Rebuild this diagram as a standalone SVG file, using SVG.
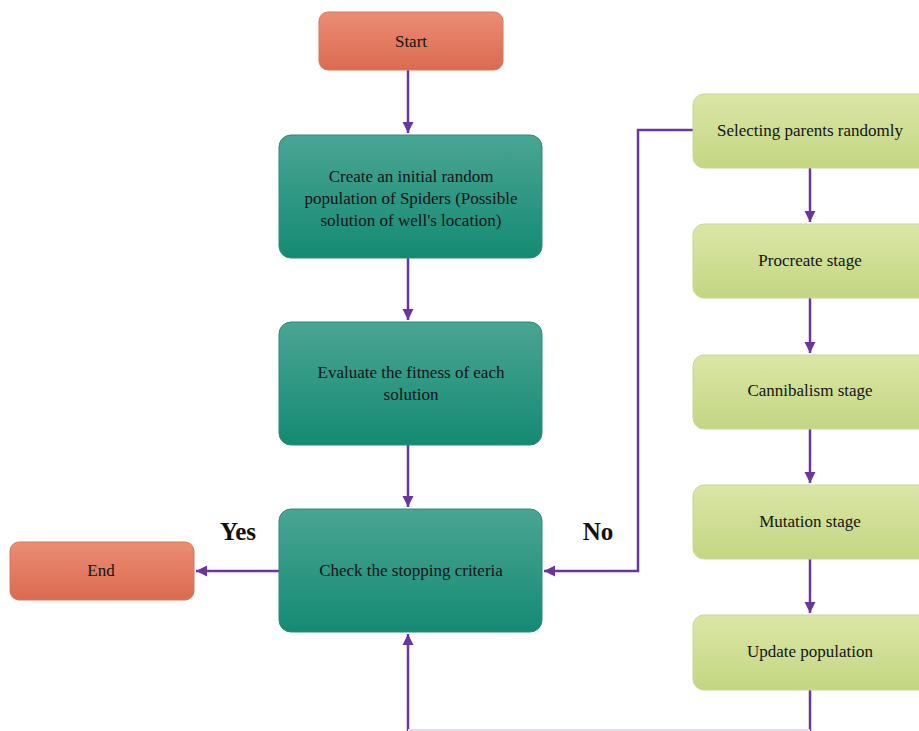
<svg xmlns="http://www.w3.org/2000/svg" width="919" height="731" viewBox="0 0 919 731">
<defs>
<linearGradient id="gRed" x1="0" y1="0" x2="0" y2="1"><stop offset="0" stop-color="#eb8d75"/><stop offset="1" stop-color="#da6a4f"/></linearGradient>
<linearGradient id="gTeal" x1="0" y1="0" x2="0" y2="1"><stop offset="0" stop-color="#4aa593"/><stop offset="1" stop-color="#148a73"/></linearGradient>
<linearGradient id="gGreen" x1="0" y1="0" x2="0" y2="1"><stop offset="0" stop-color="#dbe6a6"/><stop offset="1" stop-color="#c3d682"/></linearGradient>
<marker id="ah" viewBox="0 0 10 10" refX="10" refY="5" markerWidth="11" markerHeight="12" markerUnits="userSpaceOnUse" orient="auto"><path d="M0,0 L10,5 L0,10 z" fill="#6b35a0"/></marker>
</defs>
<style>
.red{fill:url(#gRed);stroke:#d4775f;stroke-width:1}
.teal{fill:url(#gTeal);stroke:#2a8c78;stroke-width:1}
.green{fill:url(#gGreen);stroke:#c8d79a;stroke-width:1}
text{font-family:"Liberation Serif","Times New Roman",serif;font-size:17px;fill:#141414;text-anchor:middle}
.lbl{font-size:25px;font-weight:bold;fill:#111}
.c{fill:none;stroke:#6b35a0;stroke-width:2.5}
</style>
<rect width="919" height="731" fill="#ffffff"/>
<g id="connectors">
<path class="c" d="M408,70 V133" marker-end="url(#ah)"/>
<path class="c" d="M408,258 V320" marker-end="url(#ah)"/>
<path class="c" d="M408,445 V507" marker-end="url(#ah)"/>
<path class="c" d="M279,571 H196" marker-end="url(#ah)"/>
<path class="c" d="M693,130 H638 V571 H544" marker-end="url(#ah)"/>
<path class="c" d="M810,168 V222" marker-end="url(#ah)"/>
<path class="c" d="M810,298 V353" marker-end="url(#ah)"/>
<path class="c" d="M810,429 V483" marker-end="url(#ah)"/>
<path class="c" d="M810,559 V613" marker-end="url(#ah)"/>
<path class="c" d="M810,690 V731 M408,731 V634" marker-end="url(#ah)"/>
<path d="M408,730 H810" fill="none" stroke="#e8d8f0" stroke-width="2"/>
</g>
<g id="start"><rect class="red" x="319" y="12" width="184" height="58" rx="9"/><text x="411" y="47">Start</text></g>
<g id="create"><rect class="teal" x="279" y="135" width="263" height="123" rx="12"/>
<text x="411" y="182">Create an initial random</text><text x="411" y="204">population of Spiders (Possible</text><text x="411" y="226">solution of well's location)</text></g>
<g id="evaluate"><rect class="teal" x="279" y="322" width="263" height="123" rx="12"/>
<text x="411" y="378">Evaluate the fitness of each</text><text x="411" y="400">solution</text></g>
<g id="check"><rect class="teal" x="279" y="509" width="263" height="123" rx="12"/>
<text x="411" y="576">Check the stopping criteria</text></g>
<g id="end"><rect class="red" x="10" y="542" width="184" height="58" rx="9"/><text x="101" y="576">End</text></g>
<g id="select"><rect class="green" x="693" y="94" width="240" height="74" rx="11"/><text x="810" y="136">Selecting parents randomly</text></g>
<g id="procreate"><rect class="green" x="693" y="224" width="240" height="74" rx="11"/><text x="810" y="266">Procreate stage</text></g>
<g id="cannibalism"><rect class="green" x="693" y="355" width="240" height="74" rx="11"/><text x="810" y="396">Cannibalism stage</text></g>
<g id="mutation"><rect class="green" x="693" y="485" width="240" height="74" rx="11"/><text x="810" y="527">Mutation stage</text></g>
<g id="update"><rect class="green" x="693" y="615" width="240" height="75" rx="11"/><text x="810" y="657">Update population</text></g>
<g id="labels"><text class="lbl" x="238" y="540">Yes</text><text class="lbl" x="598" y="540">No</text></g>
</svg>
